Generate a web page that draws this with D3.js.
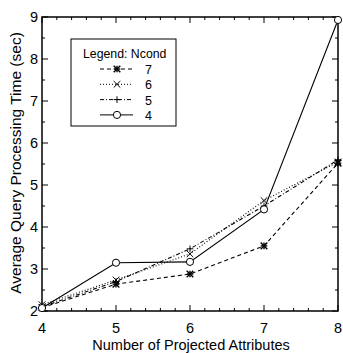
<!DOCTYPE html>
<html>
<head>
<script src="https://d3js.org/d3.v7.js"></script>
<style>
  body { margin: 0; background: #fff; }
  text { font-family: "Liberation Sans", Arial, sans-serif; fill: #000; }
</style>
</head>
<body>
<script>
const xValues = [4, 5, 6, 7, 8]
const ncond7 = [2.08, 2.64, 2.88, 3.55, 5.52]
const ncond6 = [2.15, 2.74, 3.36, 4.63, 5.55]
const ncond5 = [2.1, 2.7, 3.48, 4.5, 5.6]
const ncond4 = [2.07, 3.15, 3.17, 4.42, 8.93]
const seriesNames = ['7', '6', '5', '4']
const yTicks = [2, 3, 4, 5, 6, 7, 8, 9]

const w = 343, h = 353
const padL = 42, padR = 338, padT = 17, padB = 311

const svg = d3.select('body').append('svg').attr('width', w).attr('height', h)

const x = d3.scaleLinear().domain([4, 8]).range([padL, padR])
const y = d3.scaleLinear().domain([2, 9]).range([padB, padT])

const series = [
  {name: seriesNames[0], vals: ncond7, dash: '4,3', mark: 'star'},
  {name: seriesNames[1], vals: ncond6, dash: '1,2', mark: 'x'},
  {name: seriesNames[2], vals: ncond5, dash: '4,2,1,2', mark: 'plus'},
  {name: seriesNames[3], vals: ncond4, dash: null, mark: 'circle'}
]

// frame
svg.append('rect').attr('x', padL).attr('y', padT)
  .attr('width', padR - padL).attr('height', padB - padT)
  .attr('fill', 'none').attr('stroke', '#000').attr('stroke-width', 1.5)

// ticks, inward on all sides
const xMinor = d3.range(4, 8.001, 0.2)
const yMinor = d3.range(2, 9.001, 0.5)
const g = svg.append('g').attr('stroke', '#000').attr('stroke-width', 1)
xMinor.forEach(v => {
  const major = Math.abs(v - Math.round(v)) < 1e-6
  const len = major ? 6 : 3
  g.append('line').attr('x1', x(v)).attr('x2', x(v)).attr('y1', padB).attr('y2', padB - len)
  g.append('line').attr('x1', x(v)).attr('x2', x(v)).attr('y1', padT).attr('y2', padT + len)
})
yMinor.forEach(v => {
  const major = Math.abs(v - Math.round(v)) < 1e-6
  const len = major ? 6 : 3
  g.append('line').attr('y1', y(v)).attr('y2', y(v)).attr('x1', padL).attr('x2', padL + len)
  g.append('line').attr('y1', y(v)).attr('y2', y(v)).attr('x1', padR).attr('x2', padR - len)
})

// tick labels
svg.selectAll('.xl').data(xValues).enter().append('text')
  .attr('x', d => x(d)).attr('y', 333).attr('text-anchor', 'middle')
  .attr('font-size', 14.5).text(d => d)
svg.selectAll('.yl').data(yTicks).enter().append('text')
  .attr('x', 38).attr('y', d => y(d) + 5).attr('text-anchor', 'end')
  .attr('font-size', 14.5).text(d => d)

svg.append('text').attr('x', 191).attr('y', 350).attr('text-anchor', 'middle')
  .attr('font-size', 14.5).text('Number of Projected Attributes')
svg.append('text').attr('transform', 'translate(21,163) rotate(-90)')
  .attr('text-anchor', 'middle').attr('font-size', 15.5)
  .text('Average Query Processing Time (sec)')

function drawMark(sel, type, cx, cy) {
  const s = 3.3
  if (type === 'circle') {
    sel.append('circle').attr('cx', cx).attr('cy', cy).attr('r', 3.6)
      .attr('fill', '#fff').attr('stroke', '#000').attr('stroke-width', 1)
  } else {
    const segs = []
    if (type === 'x' || type === 'star') segs.push([-s, -s, s, s], [-s, s, s, -s])
    if (type === 'plus' || type === 'star') segs.push([-s, 0, s, 0], [0, -s, 0, s])
    segs.forEach(sg => sel.append('line')
      .attr('x1', cx + sg[0]).attr('y1', cy + sg[1]).attr('x2', cx + sg[2]).attr('y2', cy + sg[3])
      .attr('stroke', '#000').attr('stroke-width', type === 'star' ? 1.4 : 1))
  }
}

const line = d3.line().x((d, i) => x(xValues[i])).y(d => y(d))
series.forEach(s => {
  svg.append('path').datum(s.vals).attr('d', line)
    .attr('fill', 'none').attr('stroke', '#000').attr('stroke-width', 1.1)
    .attr('stroke-dasharray', s.dash)
  const mg = svg.append('g')
  s.vals.forEach((v, i) => drawMark(mg, s.mark, x(xValues[i]), y(v)))
})

// legend
const lg = svg.append('g')
lg.append('rect').attr('x', 71).attr('y', 39).attr('width', 105).attr('height', 87)
  .attr('fill', '#fff').attr('stroke', '#000').attr('stroke-width', 1)
lg.append('text').attr('x', 83).attr('y', 58).attr('font-size', 12.3).text('Legend: Ncond')
series.forEach((s, i) => {
  const ly = 69 + i * 15.3
  lg.append('line').attr('x1', 100).attr('x2', 133).attr('y1', ly).attr('y2', ly)
    .attr('stroke', '#000').attr('stroke-width', 1).attr('stroke-dasharray', s.dash)
  drawMark(lg, s.mark, 117, ly)
  lg.append('text').attr('x', 145).attr('y', ly + 5).attr('font-size', 12.5).text(s.name)
})
</script>
</body>
</html>
